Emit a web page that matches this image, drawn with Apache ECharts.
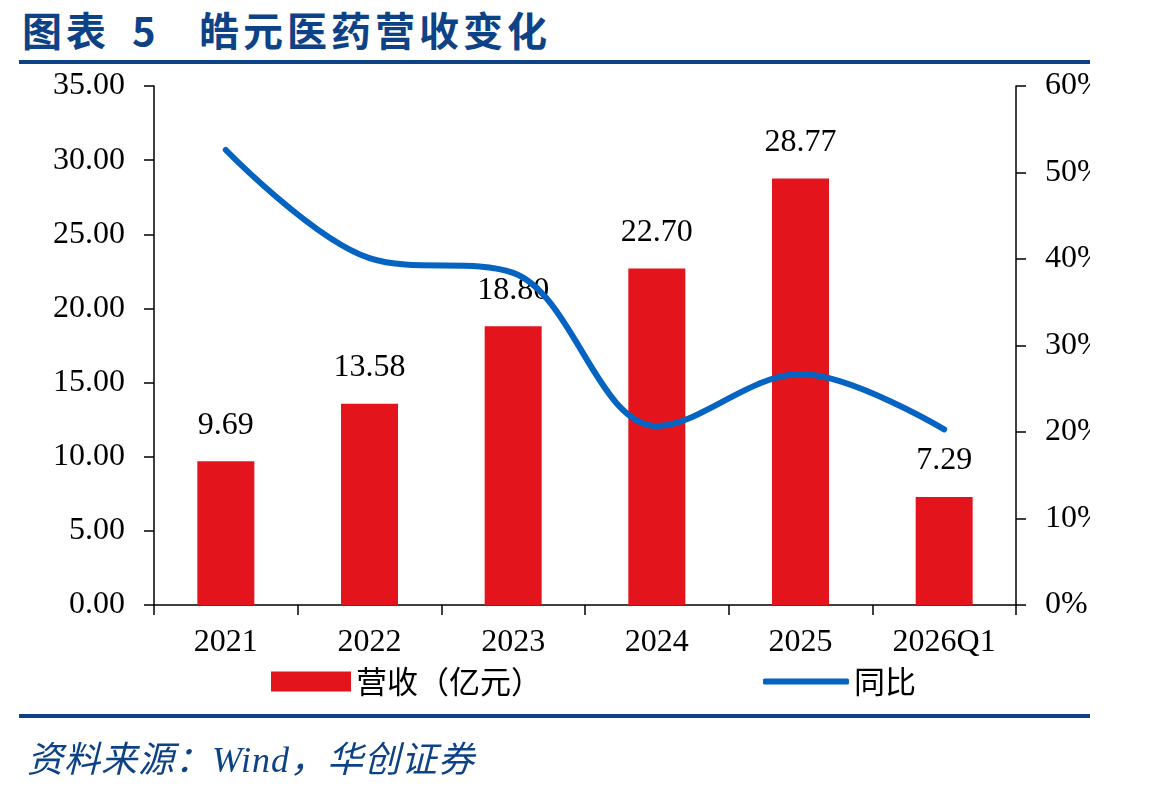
<!DOCTYPE html>
<html>
<head>
<meta charset="utf-8">
<script src="https://cdn.jsdelivr.net/npm/echarts@6/dist/echarts.min.js"></script>
<style>
  html, body { margin: 0; padding: 0; background: #ffffff; }
  #wrap { position: relative; width: 1149px; height: 792px; overflow: hidden; }
  #chart { position: absolute; left: 0; top: 0; width: 1090px; height: 792px; }
  .title { position: absolute; top: 5px; font-family: "Noto Sans CJK SC", sans-serif; font-weight: bold; font-size: 40px; line-height: 48px; color: #0e4286; letter-spacing: 4px; white-space: nowrap; }
  .rule { position: absolute; left: 19px; width: 1071px; height: 4px; background: #0e4286; }
  .source { position: absolute; left: 27px; top: 738px; font-family: "Liberation Serif", "Noto Sans CJK SC", serif; font-style: italic; font-size: 36px; line-height: 44px; color: #0e4286; letter-spacing: 1px; white-space: nowrap; }
</style>
</head>
<body>
<div id="wrap">
  <div class="title" style="left:22px">图表</div>
  <div class="title" style="left:132px">5</div>
  <div class="title" style="left:199px">皓元医药营收变化</div>
  <div class="rule" style="top:60px"></div>
  <div id="chart"></div>
  <div class="rule" style="top:714px"></div>
  <div class="source">资料来源：Wind，华创证券</div>
</div>
<script>
const categories = ['2021', '2022', '2023', '2024', '2025', '2026Q1']
const revenue = [9.69, 13.58, 18.80, 22.70, 28.77, 7.29]
const yoy = [52.6, 40.1, 38.4, 20.7, 26.7, 20.3]

const barColor = '#e3141c'
const lineColor = '#0563c1'
const serif = 'Liberation Serif'

const chart = echarts.init(document.getElementById('chart'))
chart.setOption({
  backgroundColor: 'transparent',
  animation: false,
  grid: {
    left: 154,
    right: 74,
    top: 86,
    bottom: 187,
    outerBoundsMode: 'none'
  },
  legend: [{
    data: ['营收（亿元）'],
    left: 266,
    top: 661,
    icon: 'rect',
    itemWidth: 80,
    itemHeight: 20,
    textStyle: { fontFamily: 'Noto Sans CJK SC', fontSize: 31, color: '#000' }
  }, {
    data: [{ name: '同比', icon: 'roundRect' }],
    left: 758,
    top: 661,
    itemWidth: 86,
    itemHeight: 6,
    textStyle: { fontFamily: 'Noto Sans CJK SC', fontSize: 31, color: '#000' }
  }],
  xAxis: {
    type: 'category',
    data: categories,
    axisLine: { lineStyle: { color: '#000', width: 1.5 } },
    axisTick: { show: true, length: 10, lineStyle: { color: '#000', width: 1.5 } },
    axisLabel: { margin: 22, fontFamily: serif, fontSize: 32, color: '#000' }
  },
  yAxis: [{
    type: 'value',
    min: 0,
    max: 35,
    interval: 5,
    axisLine: { show: true, lineStyle: { color: '#000', width: 1.5 } },
    axisTick: { show: true, length: 10, lineStyle: { color: '#000', width: 1.5 } },
    splitLine: { show: false },
    axisLabel: {
      margin: 29,
      fontFamily: serif,
      fontSize: 32,
      color: '#000',
      formatter: v => v.toFixed(2)
    }
  }, {
    type: 'value',
    min: 0,
    max: 60,
    interval: 10,
    position: 'right',
    axisLine: { show: true, lineStyle: { color: '#000', width: 1.5 } },
    axisTick: { show: true, length: 10, lineStyle: { color: '#000', width: 1.5 } },
    splitLine: { show: false },
    axisLabel: {
      margin: 29,
      fontFamily: serif,
      fontSize: 32,
      color: '#000',
      formatter: '{value}%'
    }
  }],
  series: [{
    name: '营收（亿元）',
    type: 'bar',
    data: revenue,
    barWidth: 57,
    itemStyle: { color: barColor },
    label: {
      show: true,
      position: 'top',
      distance: 20,
      fontFamily: serif,
      fontSize: 32,
      color: '#000',
      formatter: p => p.value.toFixed(2)
    },
    z: 2
  }, {
    name: '同比',
    type: 'line',
    yAxisIndex: 1,
    data: yoy,
    smooth: 0.35,
    symbol: 'none',
    lineStyle: { color: lineColor, width: 6, cap: 'round' },
    itemStyle: { color: lineColor },
    z: 3
  }]
})
</script>
</body>
</html>
